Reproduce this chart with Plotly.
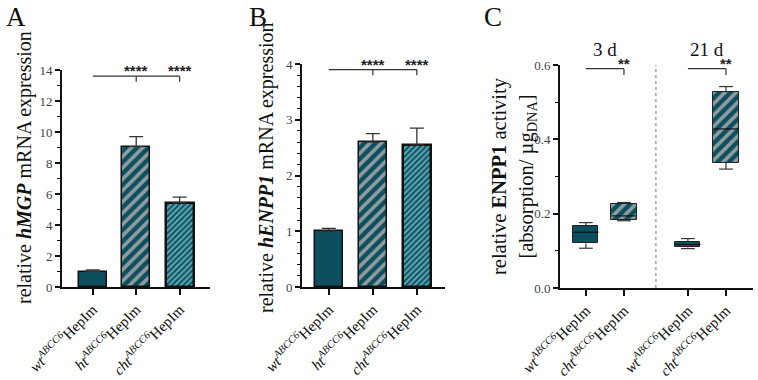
import plotly.graph_objects as go

# ---------------- data ----------------
labels_ab = ["<i>wt</i><sup><i>ABCC6</i></sup>HepIm",
             "<i>ht</i><sup><i>ABCC6</i></sup>HepIm",
             "<i>cht</i><sup><i>ABCC6</i></sup>HepIm"]
mgp_mean = [1.0, 9.05, 5.45]
mgp_err = [0.1, 0.65, 0.35]
enpp1_mean = [1.0, 2.6, 2.55]
enpp1_err = [0.05, 0.15, 0.3]

labels_c = ["<i>wt</i><sup><i>ABCC6</i></sup>HepIm",
            "<i>cht</i><sup><i>ABCC6</i></sup>HepIm",
            "<i>wt</i><sup><i>ABCC6</i></sup>HepIm",
            "<i>cht</i><sup><i>ABCC6</i></sup>HepIm"]
pos_c = [0, 1, 2.68, 3.68]
c_low = [0.107, 0.181, 0.106, 0.320]
c_q1 = [0.120, 0.184, 0.109, 0.336]
c_med = [0.150, 0.194, 0.117, 0.428]
c_q3 = [0.167, 0.226, 0.124, 0.527]
c_high = [0.176, 0.230, 0.133, 0.542]
groups_c = ["3 d", "21 d"]

# ---------------- style ----------------
TEAL = "#0d4f5e"
GRAY_STRIPE = "#8f9ca0"
LIGHT_STRIPE = "#5fa8b6"
FONT = "Liberation Serif"
W, H = 758, 380

def px_x(p):
    return p / W

def px_y(p):
    return 1 - p / H

fig = go.Figure()

patterns_ab = dict(shape=["", "/", "/"], bgcolor=[TEAL, TEAL, TEAL],
                   fgcolor=[TEAL, GRAY_STRIPE, LIGHT_STRIPE],
                   size=[8, 8, 4], solidity=[0.5, 0.45, 0.5], fillmode="replace")

for xa, ya, means, errs in [("x", "y", mgp_mean, mgp_err), ("x2", "y2", enpp1_mean, enpp1_err)]:
    fig.add_trace(go.Bar(
        x=[0, 1, 2], y=means, width=0.64, xaxis=xa, yaxis=ya,
        marker=dict(color=TEAL, pattern=patterns_ab,
                    line=dict(color="#111", width=[1.5, 1.5, 2.5])),
        error_y=dict(type="data", array=errs, arrayminus=[0, 0, 0], symmetric=False,
                     color="#333", thickness=1.3, width=7),
        showlegend=False))

box_h = [q3 - q1 for q1, q3 in zip(c_q1, c_q3)]
fig.add_trace(go.Bar(
    x=pos_c, y=box_h, base=c_q1, width=0.66, xaxis="x3", yaxis="y3",
    marker=dict(color=TEAL,
                pattern=dict(shape=["", "/", "", "/"], bgcolor=TEAL,
                             fgcolor=[TEAL, GRAY_STRIPE, TEAL, GRAY_STRIPE],
                             size=8, solidity=0.45, fillmode="replace"),
                line=dict(color="#222", width=1)),
    showlegend=False))

wx, wy, mx, my = [], [], [], []
cap = 0.18
half = 0.33
for p, lo, q1, md, q3, hi in zip(pos_c, c_low, c_q1, c_med, c_q3, c_high):
    wx += [p, p, None, p, p, None, p - cap, p + cap, None, p - cap, p + cap, None]
    wy += [q3, hi, None, q1, lo, None, hi, hi, None, lo, lo, None]
    mx += [p - half, p + half, None]
    my += [md, md, None]
fig.add_trace(go.Scatter(x=wx, y=wy, mode="lines", line=dict(color="#333", width=1.2),
                         xaxis="x3", yaxis="y3", showlegend=False, hoverinfo="skip"))
fig.add_trace(go.Scatter(x=mx, y=my, mode="lines", line=dict(color="#111", width=1.2),
                         xaxis="x3", yaxis="y3", showlegend=False, hoverinfo="skip"))

# ---------------- axes ----------------
yax_common = dict(showline=True, linecolor="#111", linewidth=1.8, ticks="outside",
                  ticklen=5, tickwidth=1.5, tickcolor="#111", showgrid=False, zeroline=False,
                  tickfont=dict(family=FONT, size=13, color="#444"))
xax_common = dict(showline=True, linecolor="#111", linewidth=2, ticks="outside",
                  ticklen=6, tickwidth=1.8, tickcolor="#111", showgrid=False, zeroline=False,
                  tickangle=-45, tickfont=dict(family=FONT, size=15, color="#111"))
minor_common = dict(ticklen=3, tickwidth=1.2, tickcolor="#111", ticks="outside")

fig.update_layout(
    width=W, height=H, margin=dict(l=0, r=0, t=0, b=0, autoexpand=False),
    paper_bgcolor="white", plot_bgcolor="white", bargap=0,
    xaxis=dict(domain=[px_x(62), px_x(210)], range=[-0.71, 2.7], anchor="y",
               tickvals=[0, 1, 2], ticktext=labels_ab, **xax_common),
    yaxis=dict(domain=[px_y(287), px_y(70)], range=[0, 14], anchor="x",
               tickvals=[0, 2, 4, 6, 8, 10, 12, 14],
               minor=dict(dtick=1, **minor_common), **yax_common),
    xaxis2=dict(domain=[px_x(302), px_x(445)], range=[-0.61, 2.64], anchor="y2",
                tickvals=[0, 1, 2], ticktext=labels_ab, **xax_common),
    yaxis2=dict(domain=[px_y(287), px_y(64)], range=[0, 4], anchor="x2",
                tickvals=[0, 1, 2, 3, 4],
                minor=dict(dtick=0.2, **minor_common), **yax_common),
    xaxis3=dict(domain=[px_x(560), px_x(753)], range=[-0.68, 4.39], anchor="y3",
                tickvals=pos_c, ticktext=labels_c, **xax_common),
    yaxis3=dict(domain=[px_y(288), px_y(65)], range=[0, 0.6], anchor="x3",
                tickvals=[0, 0.2, 0.4, 0.6], tickformat=".1f",
                minor=dict(dtick=0.1, **minor_common), **yax_common),
)

# ---------------- significance brackets ----------------
def bracket(xa, ya, x0, x_ticks, y_line, y_tick, stars, star_size=15):
    fig.add_shape(type="line", xref=xa, yref=ya, x0=x0, x1=max(x_ticks), y0=y_line, y1=y_line,
                  line=dict(color="#333", width=1.2))
    for xt in x_ticks:
        fig.add_shape(type="line", xref=xa, yref=ya, x0=xt, x1=xt, y0=y_line, y1=y_tick,
                      line=dict(color="#333", width=1.2))
        fig.add_annotation(xref=xa, yref=ya, x=xt, y=y_line, text="<b>" + stars + "</b>",
                           showarrow=False, xanchor="center", yanchor="bottom", yshift=-5,
                           font=dict(family="Liberation Sans", size=star_size, color="#222"))

bracket("x", "y", 0, [1, 2], 13.6, 13.25, "****")
bracket("x2", "y2", 0, [1, 2], 3.9, 3.8, "****")
bracket("x3", "y3", pos_c[0], [pos_c[1]], 0.59, 0.573, "**")
bracket("x3", "y3", pos_c[2], [pos_c[3]], 0.59, 0.573, "**")

sep = (pos_c[1] + pos_c[2]) / 2
fig.add_shape(type="line", xref="x3", yref="y3", x0=sep, x1=sep, y0=0, y1=0.6,
              line=dict(color="#777", width=1, dash="dot"))

for g, xc in zip(groups_c, [(pos_c[0] + pos_c[1]) / 2, (pos_c[2] + pos_c[3]) / 2]):
    fig.add_annotation(xref="x3", yref="paper", x=xc, y=px_y(50), text=g, showarrow=False,
                       xanchor="center", yanchor="middle",
                       font=dict(family=FONT, size=19, color="#111"))

for letter, xp in [("A", 16), ("B", 258), ("C", 493)]:
    fig.add_annotation(xref="paper", yref="paper", x=px_x(xp), y=px_y(17), text=letter,
                       xanchor="center", yanchor="middle",
                       showarrow=False, font=dict(family=FONT, size=27, color="#111"))

ytitle_kw = dict(xref="paper", yref="paper", textangle=-90, showarrow=False,
                 xanchor="center", yanchor="middle")
fig.add_annotation(x=px_x(24), y=px_y(168),
                   text="relative <b><i>hMGP</i></b> mRNA expression",
                   font=dict(family=FONT, size=20, color="#111"), **ytitle_kw)
fig.add_annotation(x=px_x(266), y=px_y(168),
                   text="relative <b><i>hENPP1</i></b> mRNA expression",
                   font=dict(family=FONT, size=20, color="#111"), **ytitle_kw)
fig.add_annotation(x=px_x(514), y=px_y(176),
                   text="relative <b>ENPP1</b> activity<br>[absorption/ µg<sub>DNA</sub>]",
                   font=dict(family=FONT, size=20.5, color="#111"), **ytitle_kw)

fig.write_html("out.html")
